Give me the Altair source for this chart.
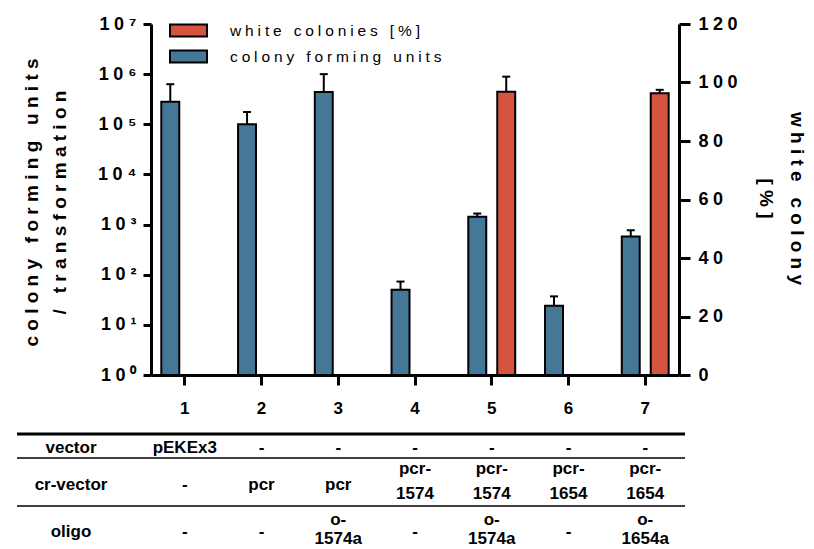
import altair as alt
import pandas as pd

# ---------------- data ----------------
samples = ["1", "2", "3", "4", "5", "6", "7"]
cfu_mean = [2.8e5, 1.0e5, 4.4e5, 50, 1.43e3, 24, 5.8e2]
cfu_upper = [6.3e5, 1.76e5, 1.0e6, 73, 1.66e3, 37, 7.7e2]

white_samples = ["5", "7"]
white_mean = [96.8, 96.3]
white_upper = [102.0, 97.5]

row_labels = ["vector", "cr-vector", "oligo"]
vector_row = ["pEKEx3", "-", "-", "-", "-", "-", "-"]
crvector_row = ["-", "pcr", "pcr", "pcr-\n1574", "pcr-\n1574", "pcr-\n1654", "pcr-\n1654"]
oligo_row = ["-", "-", "o-\n1574a", "-", "o-\n1574a", "-", "o-\n1654a"]

CFU = "colony forming units"
WHITE = "white colonies [%]"

RED = "#D5533F"
BLUE = "#457797"

NB = "\u00a0"      # letter spacing for titles
QS = "\u2005"      # letter spacing for tick and legend labels


def spaced(s, sep=NB):
    return sep.join(list(s))


cfu_df = pd.DataFrame({"sample": samples, "value": cfu_mean, "upper": cfu_upper, "series": CFU})
white_df = pd.DataFrame({"sample": white_samples, "value": white_mean, "upper": white_upper, "series": WHITE})
table_df = pd.DataFrame({"sample": samples, "vector": vector_row, "crvector": crvector_row, "oligo": oligo_row})
labels_df = pd.DataFrame({"label": row_labels})

# ---------------- scales / axes ----------------
x_scale = alt.Scale(domain=samples, paddingInner=0.2, paddingOuter=0.04)
xoff_scale = alt.Scale(domain=[CFU, WHITE], paddingInner=0.38, paddingOuter=0.25)
color_scale = alt.Scale(domain=[WHITE, CFU], range=[RED, BLUE])
log_scale = alt.Scale(type="log", domain=[1, 1e7])
lin_scale = alt.Scale(domain=[0, 120])

sup = ["\u2070", "\u00b9", "\u00b2", "\u00b3", "\u2074", "\u2075", "\u2076", "\u2077"]
sup_js = "[" + ",".join("'" + s + "'" for s in sup) + "]"
left_label_expr = "'1" + QS + "0" + NB + "' + " + sup_js + "[round(log(datum.value)/LN10)]"

right_vals = [0, 20, 40, 60, 80, 100, 120]
right_label_expr = ""
for v in right_vals:
    right_label_expr += "datum.value == %d ? '%s' : " % (v, spaced(str(v), QS))
right_label_expr += "''"

legend_label_expr = "datum.label == '%s' ? '%s' : '%s'" % (WHITE, spaced(WHITE, QS), spaced(CFU, QS))

x_axis = alt.Axis(
    title=None,
    labelAngle=0,
    labelFont="Liberation Sans",
    labelFontWeight="bold",
    labelFontSize=17,
    labelColor="black",
    labelPadding=15,
    tickSize=10,
    tickWidth=3,
    tickColor="black",
    domainWidth=3,
    domainColor="black",
)


def x_enc():
    return alt.X("sample:N", scale=x_scale, sort=samples, axis=x_axis)


xoff_enc = alt.XOffset("series:N", scale=xoff_scale)

legend = alt.Legend(
    title=None,
    orient="none",
    legendX=27,
    legendY=-4,
    symbolType="M-2,-0.64H2V0.64H-2Z",
    symbolSize=342,
    symbolStrokeColor="black",
    symbolStrokeWidth=2,
    symbolOpacity=1,
    labelFont="Liberation Sans",
    labelFontSize=15.5,
    labelColor="black",
    labelOffset=31,
    labelLimit=0,
    labelExpr=legend_label_expr,
    rowPadding=5,
    padding=0,
)
color_enc = alt.Color("series:N", scale=color_scale, legend=legend)

left_axis = alt.Axis(
    title=[spaced("colony forming units"), spaced("/ transformation")],
    orient="left",
    values=[1, 10, 100, 1000, 10000, 100000, 1000000, 10000000],
    labelExpr=left_label_expr,
    labelFont="Liberation Sans",
    labelFontWeight="bold",
    labelFontSize=18,
    labelColor="black",
    labelPadding=7,
    tickSize=8,
    tickWidth=3,
    tickColor="black",
    domainWidth=3,
    domainColor="black",
    grid=False,
    titleFont="Liberation Sans",
    titleFontWeight="bold",
    titleFontSize=19,
    titleColor="black",
    titleAngle=270,
    titleBaseline="middle",
    titleAlign="center",
    titleLineHeight=28,
    titleX=-120,
    titleY=178,
)

right_axis = alt.Axis(
    title=[spaced("white colony"), spaced("[%]")],
    orient="right",
    values=right_vals,
    labelExpr=right_label_expr,
    labelFont="Liberation Sans",
    labelFontWeight="bold",
    labelFontSize=18,
    labelColor="black",
    labelPadding=8,
    tickSize=11,
    tickWidth=3,
    tickColor="black",
    domainWidth=3,
    domainColor="black",
    grid=False,
    titleFont="Liberation Sans",
    titleFontWeight="bold",
    titleFontSize=19,
    titleColor="black",
    titleAngle=90,
    titleBaseline="middle",
    titleAlign="center",
    titleLineHeight=31,
    titleX=117,
    titleY=174,
)

# ---------------- left (cfu, log) ----------------
cfu_bars = alt.Chart(cfu_df).mark_bar(stroke="black", strokeWidth=2, opacity=1).encode(
    x=x_enc(),
    xOffset=xoff_enc,
    y=alt.Y("value:Q", scale=log_scale, axis=left_axis),
    y2=alt.Y2(datum=1),
    color=color_enc,
)
cfu_err = alt.Chart(cfu_df).mark_rule(color="black", strokeWidth=2).encode(
    x=x_enc(),
    xOffset=xoff_enc,
    y=alt.Y("value:Q", scale=log_scale, axis=left_axis),
    y2="upper:Q",
)
cfu_cap = alt.Chart(cfu_df).mark_tick(color="black", thickness=2, size=8, opacity=1).encode(
    x=x_enc(),
    xOffset=xoff_enc,
    y=alt.Y("upper:Q", scale=log_scale, axis=left_axis),
)
left = alt.layer(cfu_bars, cfu_err, cfu_cap)

# ---------------- right (white %, linear) ----------------
white_bars = alt.Chart(white_df).mark_bar(stroke="black", strokeWidth=2, opacity=1).encode(
    x=x_enc(),
    xOffset=xoff_enc,
    y=alt.Y("value:Q", scale=lin_scale, axis=right_axis),
    color=color_enc,
)
white_err = alt.Chart(white_df).mark_rule(color="black", strokeWidth=2).encode(
    x=x_enc(),
    xOffset=xoff_enc,
    y=alt.Y("value:Q", scale=lin_scale, axis=right_axis),
    y2="upper:Q",
)
white_cap = alt.Chart(white_df).mark_tick(color="black", thickness=2, size=8, opacity=1).encode(
    x=x_enc(),
    xOffset=xoff_enc,
    y=alt.Y("upper:Q", scale=lin_scale, axis=right_axis),
)
right = alt.layer(white_bars, white_err, white_cap)


# ---------------- table below the axis ----------------
def txt(line_height=22):
    return dict(font="Liberation Sans", fontWeight="bold", fontSize=17, color="black",
                align="center", baseline="middle", lineBreak="\n", lineHeight=line_height)


# (column, centre of single-line text, first-line centre of two-line text, line height)
rows = [("vector", 424, 424, 22), ("crvector", 461, 445, 25), ("oligo", 508, 496, 19)]
table_layers = []
for col, y_single, y_multi, lh in rows:
    has_break = "indexof(datum.%s, '\\n') >= 0" % col
    table_layers.append(
        alt.Chart(table_df).transform_filter("!(" + has_break + ")").mark_text(**txt(lh)).encode(
            x=x_enc(),
            y=alt.value(y_single),
            text=f"{col}:N",
        )
    )
    table_layers.append(
        alt.Chart(table_df).transform_filter(has_break).mark_text(**txt(lh)).encode(
            x=x_enc(),
            y=alt.value(y_multi),
            text=f"{col}:N",
        )
    )
for lab, (_, y_single, _, _) in zip(row_labels, rows):
    table_layers.append(
        alt.Chart(labels_df).transform_filter(alt.datum.label == lab).mark_text(**txt()).encode(
            x=alt.value(-80),
            y=alt.value(y_single),
            text="label:N",
        )
    )
for i, yv in enumerate([410, 434, 482]):
    table_layers.append(
        alt.Chart(labels_df).transform_filter(alt.datum.label == row_labels[i]).mark_rule(
            color="black", strokeWidth=3 if i == 0 else 1.5
        ).encode(
            x=alt.value(-134),
            x2=alt.value(534),
            y=alt.value(yv),
        )
    )

chart = (
    alt.layer(left, right, *table_layers)
    .resolve_scale(y="independent")
    .properties(
        width=528,
        height=351,
        autosize=alt.AutoSizeParams(type="none"),
        padding={"left": 143, "top": 16, "right": 127, "bottom": 174},
        background="white",
    )
    .configure_view(stroke=None)
)

chart.save("out.html", embed_options={"renderer": "svg", "actions": False})
